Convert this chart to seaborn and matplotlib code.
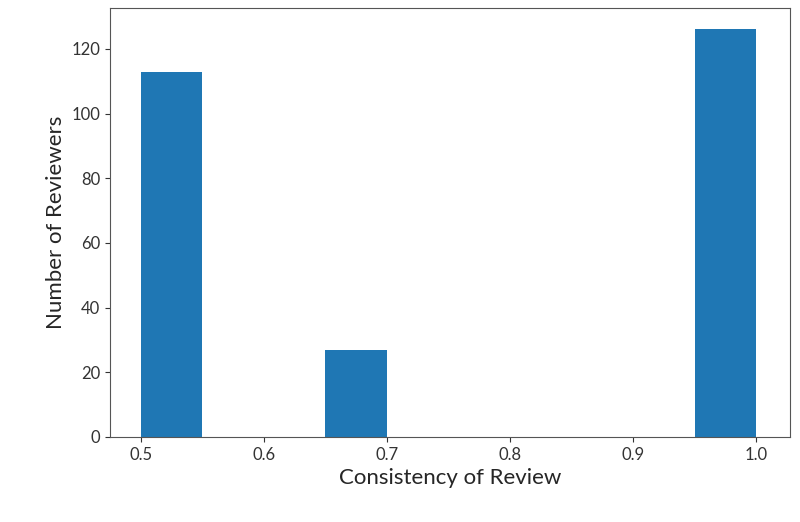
import matplotlib
matplotlib.use("Agg")
from matplotlib import pyplot as plt
import pandas as pd
import seaborn as sns

# consistency values (one per group) and how many reviewers have each
consistency = [0.5, 2 / 3, 1.0]
reviewers = [113, 27, 126]

df = pd.DataFrame({"consistency": consistency, "reviewers": reviewers})

sns.set_style("ticks")
plt.rcParams["font.family"] = ["Lato", "DejaVu Sans"]

fig = plt.figure(figsize=(8, 5.22), dpi=100)
ax = fig.add_axes([0.1375, 0.163, 0.85, 0.822])

sns.histplot(data=df, x="consistency", weights="reviewers", bins=10, binrange=(0.5, 1.0),
             color="#1f77b4", alpha=1, edgecolor="none", linewidth=0, ax=ax)

ax.set_xlim(0.475, 1.0275)
ax.set_ylim(0, 132.7)
ax.set_xticks([0.5, 0.6, 0.7, 0.8, 0.9, 1.0])
ax.set_yticks(range(0, 121, 20))
ax.tick_params(labelsize=12, colors="#333333")
ax.set_xlabel("Consistency of Review", fontsize=16)
ax.set_ylabel("Number of Reviewers", fontsize=16)
for s in ax.spines.values():
    s.set_color("#555555")
    s.set_visible(True)

fig.savefig("out.png", dpi=100)
